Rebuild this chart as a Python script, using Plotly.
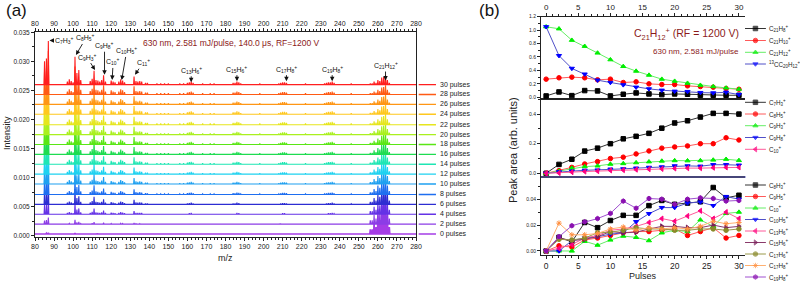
import plotly.graph_objects as go

# ---------------- (a) stacked mass spectra ----------------
pulse_counts = [0, 2, 4, 6, 8, 10, 12, 14, 16, 18, 20, 22, 24, 26, 28, 30]
baselines = [0.0003, 0.0020, 0.0037, 0.0054, 0.0071, 0.0089, 0.0106, 0.0123,
             0.0140, 0.0157, 0.0174, 0.0191, 0.0209, 0.0226, 0.0243, 0.0260]
trace_colors = ["#A53CE6", "#8C3CE6", "#6432E6", "#2D2DD2", "#1E6EF0", "#1EA0F0",
                "#1ED2F0", "#1EE6B4", "#1EDC50", "#5AE614", "#AAF01E", "#E6E61E",
                "#FFC81E", "#FF9614", "#FF5A14", "#FF1E1E"]

# fragment peaks: m/z and height (x1e-4) in the 30-pulse spectrum
frag_mz = [85, 86, 87, 97, 98, 99, 100, 101, 102, 103, 104, 109, 110, 111, 112, 113,
           114, 115, 116, 117, 120, 121, 122, 124, 125, 126, 127, 132, 133, 134, 135,
           136, 138, 139, 144, 146, 148, 150, 156, 158, 160, 161, 162, 163, 168, 172,
           174, 184, 185, 186, 187, 188, 198, 208, 209, 210, 211, 212, 222, 232, 233,
           234, 235, 236, 237, 246]
frag_h30 = [40, 45, 75, 5, 9, 6, 4, 48, 20, 25, 8, 6, 10, 24, 8, 7,
            5, 8, 16, 5, 7, 5, 4, 5, 9, 7, 4, 14, 6, 5, 6,
            5, 3, 3, 2, 2, 2, 2, 2, 2, 3, 4, 5, 3, 2, 2,
            2, 3, 3, 5, 4, 2, 2, 2, 3, 4, 4, 3, 2, 2, 3,
            4, 4, 5, 3, 2]
# parent-ion region
parent_mz = [256, 257, 258, 259, 260, 261, 262, 263, 264, 265, 266]
parent_h30 = [2, 2, 5, 3, 8, 6, 12, 13, 16, 8, 3]
# relative scaling of each spectrum (0 ... 30 pulses)
frag_scale = [0.03, 0.15, 0.4, 0.55, 0.65, 0.74, 0.8, 0.86, 0.9, 0.93, 0.96, 0.98, 1.0, 1.0, 1.0, 1.0]
parent_scale = [4.0, 3.2, 2.6, 2.2, 1.9, 1.7, 1.55, 1.45, 1.35, 1.25, 1.2, 1.15, 1.1, 1.05, 1.0, 1.0]

peak_labels = ["C<sub>7</sub>H<sub>3</sub><sup>+</sup>", "C<sub>8</sub>H<sub>5</sub><sup>+</sup>",
               "C<sub>9</sub>H<sub>3</sub><sup>+</sup>", "C<sub>9</sub>H<sub>8</sub><sup>+</sup>",
               "C<sub>10</sub><sup>+</sup>", "C<sub>10</sub>H<sub>5</sub><sup>+</sup>",
               "C<sub>11</sub><sup>+</sup>", "C<sub>13</sub>H<sub>6</sub><sup>+</sup>",
               "C<sub>15</sub>H<sub>6</sub><sup>+</sup>", "C<sub>17</sub>H<sub>8</sub><sup>+</sup>",
               "C<sub>19</sub>H<sub>8</sub><sup>+</sup>", "C<sub>21</sub>H<sub>12</sub><sup>+</sup>"]
peak_label_mz = [87.6, 101.5, 111.5, 116.5, 120.5, 125.5, 132.5, 162, 186, 212, 236, 264]
peak_label_y = [0.0336, 0.0311, 0.0285, 0.0277, 0.0268, 0.0268, 0.0277, 0.0264, 0.0266, 0.0266, 0.0266, 0.0267]
label_off = [(4, 0), (10, -17), (-8, -13), (0, -29), (1, -18), (5, -29), (8, -12),
             (0, -12), (0, -12), (0, -12), (0, -12), (0, -15)]

# ---------------- (b) peak areas ----------------
pulses = [0, 2, 4, 6, 8, 10, 12, 14, 16, 18, 20, 22, 24, 26, 28, 30]

top_names = ["C<sub>21</sub>H<sub>8</sub><sup>+</sup>", "C<sub>21</sub>H<sub>10</sub><sup>+</sup>",
             "C<sub>21</sub>H<sub>12</sub><sup>+</sup>", "<sup>13</sup>CC<sub>20</sub>H<sub>12</sub><sup>+</sup>"]
c21h8 = [0.02, 0.08, 0.025, 0.10, 0.095, 0.02, 0.045, 0.065, 0.05, 0.04, 0.05, 0.045, 0.03, 0.03, 0.03, 0.03]
c21h10 = [0.27, 0.29, 0.30, 0.29, 0.26, 0.27, 0.22, 0.23, 0.20, 0.19, 0.19, 0.17, 0.16, 0.15, 0.13, 0.12]
c21h12 = [1.05, 1.02, 0.85, 0.76, 0.66, 0.56, 0.46, 0.39, 0.33, 0.27, 0.24, 0.21, 0.18, 0.16, 0.14, 0.12]
c13c20h12 = [1.05, 0.62, 0.43, 0.345, 0.255, 0.22, 0.185, 0.15, 0.125, 0.105, 0.09, 0.085, 0.07, 0.065, 0.075, 0.04]

mid_names = ["C<sub>7</sub>H<sub>3</sub><sup>+</sup>", "C<sub>8</sub>H<sub>5</sub><sup>+</sup>",
             "C<sub>9</sub>H<sub>3</sub><sup>+</sup>", "C<sub>9</sub>H<sub>8</sub><sup>+</sup>",
             "C<sub>10</sub><sup>+</sup>"]
c7h3 = [0, 0.06, 0.095, 0.15, 0.17, 0.20, 0.233, 0.25, 0.27, 0.305, 0.34, 0.355, 0.38, 0.405, 0.405, 0.40]
c8h5 = [0, 0.018, 0.04, 0.063, 0.079, 0.10, 0.109, 0.131, 0.151, 0.17, 0.178, 0.185, 0.20, 0.20, 0.24, 0.225]
c9h3 = [0, 0.015, 0.035, 0.045, 0.05, 0.062, 0.066, 0.072, 0.078, 0.083, 0.086, 0.085, 0.086, 0.09, 0.095, 0.087]
c9h8 = [0, 0.01, 0.015, 0.02, 0.022, 0.028, 0.03, 0.035, 0.04, 0.043, 0.05, 0.05, 0.048, 0.058, 0.058, 0.055]
c10_mid = [0, 0.002, 0.008, 0.012, 0.015, 0.02, 0.022, 0.025, 0.028, 0.03, 0.033, 0.035, 0.035, 0.038, 0.04, 0.04]

bot_names = ["C<sub>8</sub>H<sub>3</sub><sup>+</sup>", "C<sub>9</sub>H<sub>5</sub><sup>+</sup>",
             "C<sub>10</sub><sup>+</sup>", "C<sub>10</sub>H<sub>5</sub><sup>+</sup>",
             "C<sub>13</sub>H<sub>6</sub><sup>+</sup>", "C<sub>15</sub>H<sub>6</sub><sup>+</sup>",
             "C<sub>17</sub>H<sub>6</sub><sup>+</sup>", "C<sub>17</sub>H<sub>8</sub><sup>+</sup>",
             "C<sub>19</sub>H<sub>8</sub><sup>+</sup>"]
c8h3 = [0, 0.0105, 0.007, 0.022, 0.018, 0.0235, 0.0275, 0.0275, 0.035, 0.039, 0.036, 0.037, 0.038, 0.049, 0.041, 0.043]
c9h5 = [0, 0.004, 0.003, 0.0085, 0.010, 0.012, 0.014, 0.015, 0.015, 0.016, 0.017, 0.012, 0.015, 0.018, 0.010, 0.012]
c10_bot = [0, 0.0, 0.0, 0.0075, 0.0045, 0.0085, 0.0115, 0.0105, 0.008, 0.014, 0.016, 0.015, 0.024, 0.019, 0.029, 0.030]
c10h5 = [0, 0.0, 0.008, 0.010, 0.011, 0.013, 0.014, 0.0226, 0.0288, 0.0335, 0.0335, 0.037, 0.0378, 0.035, 0.042, 0.040]
c13h6 = [0, 0.002, 0.005, 0.010, 0.012, 0.016, 0.017, 0.019, 0.022, 0.025, 0.023, 0.027, 0.031, 0.025, 0.030, 0.025]
c15h6 = [0, 0.010, 0.008, 0.009, 0.011, 0.015, 0.014, 0.0145, 0.017, 0.019, 0.019, 0.018, 0.018, 0.020, 0.018, 0.019]
c17h6 = [0, 0.009, 0.0085, 0.010, 0.014, 0.0145, 0.016, 0.018, 0.017, 0.017, 0.016, 0.016, 0.017, 0.017, 0.016, 0.017]
c17h8 = [0, 0.0215, 0.0125, 0.0125, 0.0135, 0.017, 0.0185, 0.016, 0.018, 0.017, 0.018, 0.017, 0.019, 0.023, 0.021, 0.022]
c19h8 = [0, 0.011, 0.0195, 0.0225, 0.025, 0.029, 0.0385, 0.033, 0.0405, 0.040, 0.036, 0.040, 0.041, 0.0405, 0.0385, 0.039]

# styles
mk_col = ["#000000", "#FF0000", "#00EE00", "#0000FF", "#FF0080", "#7A1E5A", "#8A8A2A", "#FF9040", "#8A10B0"]
ln_col = ["#333333", "#FF5A5A", "#66EE66", "#5050C8", "#FF5A9A", "#8A3A6A", "#9A9A4A", "#FFB070", "#A050D0"]
mk_sym = ["square", "circle", "triangle-up", "triangle-down", "triangle-left", "triangle-right",
          "circle", "asterisk-open", "hexagon"]

FONT = "Liberation Sans"
fig = go.Figure()

# spectra
for i in range(len(pulse_counts)):
    b = baselines[i]
    peaks = sorted([(m, h * 1e-4 * frag_scale[i]) for m, h in zip(frag_mz, frag_h30)] +
                   [(m, h * 1e-4 * parent_scale[i]) for m, h in zip(parent_mz, parent_h30)])
    xs, ys = [80], [b]
    for m, h in peaks:
        xs += [m - 0.25, m, m + 0.25]
        ys += [b, b + h, b]
    xs.append(280)
    ys.append(b)
    fig.add_trace(go.Scatter(x=xs, y=ys, mode="lines",
                             line=dict(color=trace_colors[i], width=1.6 if i == 0 else 1.1),
                             xaxis="x", yaxis="y", showlegend=False, hoverinfo="skip"))
    # pulse label line
    fig.add_trace(go.Scatter(x=[0.05, 0.37], y=[b, b], mode="lines",
                             line=dict(color=trace_colors[i], width=1.4),
                             xaxis="x6", yaxis="y", showlegend=False, hoverinfo="skip"))

# dummy for top axis of (a)
fig.add_trace(go.Scatter(x=[None], y=[None], xaxis="x8", yaxis="y", showlegend=False))

def add_series(vals_list, names, xa, ya, rows):
    for k, (vals, nm) in enumerate(zip(vals_list, names)):
        fig.add_trace(go.Scatter(x=pulses, y=vals, mode="lines+markers", name=nm,
                                 line=dict(color=ln_col[k], width=1),
                                 marker=dict(color=mk_col[k], symbol=mk_sym[k], size=4.5,
                                             line=dict(color=mk_col[k], width=1)),
                                 xaxis=xa, yaxis=ya, showlegend=False))
        # custom legend sample
        fig.add_trace(go.Scatter(x=[0.0, 0.19, 0.38], y=[rows[k]] * 3, mode="lines+markers",
                                 line=dict(color=ln_col[k], width=1),
                                 marker=dict(color=mk_col[k], symbol=mk_sym[k], size=[0, 4.5, 0],
                                             line=dict(color=mk_col[k], width=1)),
                                 xaxis="x7", yaxis="y7", showlegend=False, hoverinfo="skip"))
        fig.add_annotation(x=0.40, y=rows[k], xref="x7", yref="y7", text=nm, showarrow=False,
                           xanchor="left", yanchor="middle", font=dict(size=6.3, color="#222", family=FONT))

rows_top = [28.5, 40.5, 52.3, 64]
rows_mid = [102.3, 114, 125.7, 137.5, 149.3]
rows_bot = [185, 196.5, 208, 219.5, 231, 242.5, 254, 265.5, 277]
add_series([c21h8, c21h10, c21h12, c13c20h12], top_names, "x4", "y4", rows_top)
add_series([c7h3, c8h5, c9h3, c9h8, c10_mid], mid_names, "x3", "y3", rows_mid)
add_series([c8h3, c9h5, c10_bot, c10h5, c13h6, c15h6, c17h6, c17h8, c19h8], bot_names, "x2", "y2", rows_bot)

def ax(size=7, **kw):
    d = dict(showline=True, linecolor="#222", linewidth=1, ticks="outside", tickcolor="#222",
             showgrid=False, zeroline=False, automargin=False,
             tickfont=dict(family=FONT, color="#222", size=size))
    d.update(kw)
    return d

def mnr(dt):
    return dict(dtick=dt, ticklen=2, ticks="outside", tickcolor="#222")

L0, L1 = 35 / 800, 416 / 800
R0, R1 = 541 / 800, 746 / 800
def py(p):
    return 1 - p / 281

fig.update_layout(
    width=800, height=281, margin=dict(l=0, r=0, t=0, b=0, autoexpand=False),
    paper_bgcolor="white", plot_bgcolor="white", showlegend=False,
    xaxis=ax(7, domain=[L0, L1], range=[80, 280], anchor="y", dtick=10, ticklen=3, minor=mnr(2)),
    xaxis8=ax(7, overlaying="x", side="top", range=[80, 280], anchor="y", dtick=10, ticklen=3, minor=mnr(2)),
    yaxis=ax(6.5, domain=[py(236.9), py(32.3)], range=[-0.0002, 0.035], anchor="x", dtick=0.005,
             tickformat=".3f", ticklen=3, mirror=True, minor=mnr(0.0025)),
    xaxis6=dict(domain=[L1, 470 / 800], range=[0, 1], anchor="y", visible=False, automargin=False),
    xaxis2=ax(8.5, domain=[R0, R1], range=[-0.8, 31.1], anchor="y2", dtick=5, ticklen=3, mirror=True, minor=mnr(1)),
    yaxis2=ax(5, domain=[py(255), py(177)], range=[-0.0031, 0.0571], anchor="x2", dtick=0.02, tickformat=".2f",
              ticklen=3, mirror=True, minor=mnr(0.01)),
    xaxis3=ax(5, domain=[R0, R1], range=[-0.8, 31.1], anchor="y3", showticklabels=False, mirror=True, ticks=""),
    yaxis3=ax(5, domain=[py(177), py(99.3)], range=[-0.025, 0.50], anchor="x3", dtick=0.2, tickformat=".1f",
              ticklen=3, mirror=True, minor=mnr(0.1)),
    xaxis4=ax(8, domain=[R0, R1], range=[-0.8, 31.1], anchor="y4", side="top", dtick=5, ticklen=3, mirror=True,
              minor=mnr(1)),
    yaxis4=ax(5, domain=[py(99.3), py(16.7)], range=[-0.03, 1.2], anchor="x4", dtick=0.2, tickformat=".1f",
              ticklen=3, mirror=True, minor=mnr(0.1)),
    xaxis7=dict(domain=[745 / 800, 1.0], range=[0, 1], anchor="y7", visible=False, automargin=False),
    yaxis7=dict(domain=[0, 1], range=[281, 0], anchor="x7", visible=False, automargin=False),
)

# separator between middle and bottom (bluish)
fig.add_shape(type="line", xref="x2 domain", yref="paper", x0=0, x1=1, y0=py(177), y1=py(177),
              line=dict(color="#6A6AD0", width=1.2))

# pulse labels
for i, p in enumerate(pulse_counts):
    fig.add_annotation(x=0.41, y=baselines[i], xref="x6", yref="y", text=f"{p} pulses", showarrow=False,
                       xanchor="left", yanchor="middle", font=dict(size=7, color="#222", family=FONT))

# peak labels with arrows
for t, m, yv, (dx, dy) in zip(peak_labels, peak_label_mz, peak_label_y, label_off):
    fig.add_annotation(x=m, y=yv, xref="x", yref="y", text=t, showarrow=True, arrowhead=2, arrowsize=1,
                       arrowwidth=0.9, arrowcolor="#111", ax=dx, ay=dy,
                       xanchor="left" if dy == 0 else "center",
                       font=dict(size=7, color="#111", family=FONT))

def txt(xp, yp, text, size, color="#222", xanchor="center", angle=0):
    fig.add_annotation(x=xp / 800, y=py(yp), xref="paper", yref="paper", showarrow=False,
                       xanchor=xanchor, yanchor="middle", textangle=angle, text=text,
                       font=dict(size=size, color=color, family=FONT))

txt(141, 43, "630 nm, 2.581 mJ/pulse, 140.0 \u03bcs, RF=1200 V", 8.5, "#8B1A1A", "left")
txt(741, 34, "C<sub>21</sub>H<sub>12</sub><sup>+</sup> (RF = 1200 V)", 10.5, "#8B1A1A", "right")
txt(741, 52, "630 nm, 2.581 mJ/pulse", 8, "#8B1A1A", "right")
txt(4, 11, "(a)", 17, "#111", "left")
txt(477, 11, "(b)", 17, "#111", "left")
txt(7, 133, "Intensity", 9, angle=-90)
txt(226, 258, "m/z", 9)
txt(513, 150, "Peak area (arb. units)", 11, angle=-90)
txt(643, 275.5, "Pulses", 9)

fig.write_html("out.html", config={"displayModeBar": False},
               post_script="document.body.style.margin='0px';document.body.style.padding='0px';")
